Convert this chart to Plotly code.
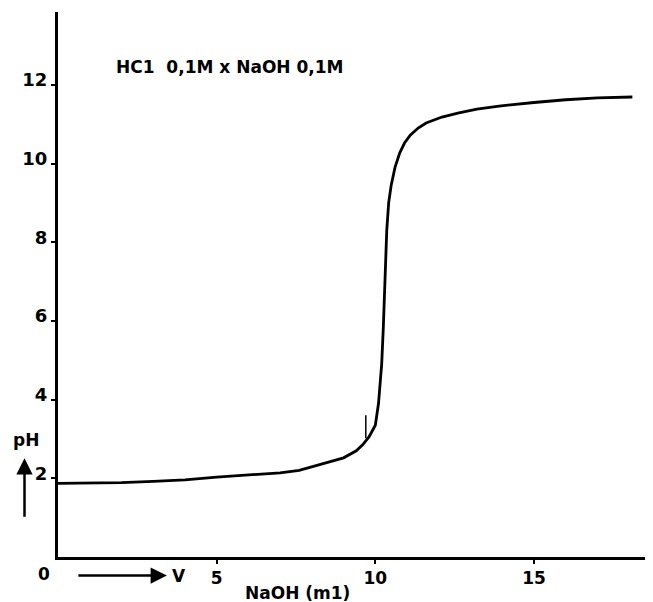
import plotly.graph_objects as go

# Titration curve: volume of NaOH (ml) vs pH
naoh_ml = [0, 1, 2, 3, 4, 5, 6, 7, 7.6, 8.5, 9.0, 9.4, 9.6, 9.8, 10.0, 10.1, 10.2,
           10.25, 10.3, 10.36, 10.42, 10.5, 10.62, 10.77, 10.92, 11.1, 11.35, 11.6,
           12.1, 12.6, 13.2, 13.9, 15, 16, 17, 18.1]
ph_vals = [1.87, 1.88, 1.89, 1.92, 1.96, 2.03, 2.08, 2.14, 2.2, 2.4, 2.52, 2.7, 2.85,
           3.05, 3.35, 3.9, 4.9, 5.8, 6.9, 8.3, 9.0, 9.45, 9.9, 10.27, 10.52, 10.72,
           10.9, 11.03, 11.18, 11.28, 11.38, 11.46, 11.55, 11.62, 11.67, 11.69]

# small equivalence marker
eq_x = [9.7, 9.7]
eq_y = [3.02, 3.6]

x_ticks = [5, 10, 15]
y_ticks = [2, 4, 6, 8, 10, 12]

FONT = "DejaVu Sans"

fig = go.Figure()
fig.add_trace(go.Scatter(x=naoh_ml, y=ph_vals, mode="lines",
                         line=dict(color="black", width=2.8), showlegend=False,
                         cliponaxis=False))
fig.add_trace(go.Scatter(x=eq_x, y=eq_y, mode="lines",
                         line=dict(color="black", width=1.5), showlegend=False))

# page body has an 8px margin, so the figure is sized 8px smaller
fig.update_layout(
    width=645, height=594,
    margin=dict(l=50, r=0, t=4, b=45),
    plot_bgcolor="white", paper_bgcolor="white",
    font=dict(family=FONT, color="black"),
    xaxis=dict(range=[0, 18.75], showgrid=False, zeroline=False,
               showline=True, linewidth=3, linecolor="black",
               tickvals=x_ticks, ticktext=[str(v) for v in x_ticks],
               ticks="outside", ticklen=4, tickwidth=2, tickcolor="black",
               tickfont=dict(family=FONT, size=17, weight="bold")),
    yaxis=dict(range=[0, 13.85], showgrid=False, zeroline=False,
               showline=True, linewidth=3, linecolor="black",
               tickvals=y_ticks, ticktext=[str(v) for v in y_ticks],
               ticks="outside", ticklen=4, tickwidth=2, tickcolor="black",
               ticklabelshift=-5,
               tickfont=dict(family=FONT, size=18, weight="bold")),
)

bold = dict(family=FONT, size=17, color="black", weight="bold")

fig.add_annotation(x=1.78, y=12.45, xref="x", yref="y", text="HC1  0,1M x NaOH 0,1M",
                   showarrow=False, xanchor="left", yanchor="middle", font=bold)
fig.add_annotation(x=-0.0227, y=-0.0303, xref="paper", yref="paper", text="0",
                   showarrow=False, xanchor="center", yanchor="middle", font=bold)
fig.add_annotation(x=0.183, y=-0.034, xref="paper", yref="paper", text="",
                   showarrow=True, ax=-90, ay=0, axref="pixel", ayref="pixel",
                   arrowhead=2, arrowsize=1.3, arrowwidth=2.5, arrowcolor="black")
fig.add_annotation(x=0.189, y=-0.034, xref="paper", yref="paper", text="V",
                   showarrow=False, xanchor="left", yanchor="middle", font=bold)
fig.add_annotation(x=0.403, y=-0.066, xref="paper", yref="paper", text="NaOH (m1)",
                   showarrow=False, xanchor="center", yanchor="middle",
                   font=dict(family=FONT, size=17, color="black", weight="bold"))
fig.add_annotation(x=-0.0563, y=0.181, xref="paper", yref="paper", text="",
                   showarrow=True, ax=0, ay=60, axref="pixel", ayref="pixel",
                   arrowhead=2, arrowsize=1.3, arrowwidth=2.5, arrowcolor="black")
fig.add_annotation(x=-0.053, y=0.214, xref="paper", yref="paper", text="pH",
                   showarrow=False, xanchor="center", yanchor="middle", font=bold)

fig.write_html("out.html")
